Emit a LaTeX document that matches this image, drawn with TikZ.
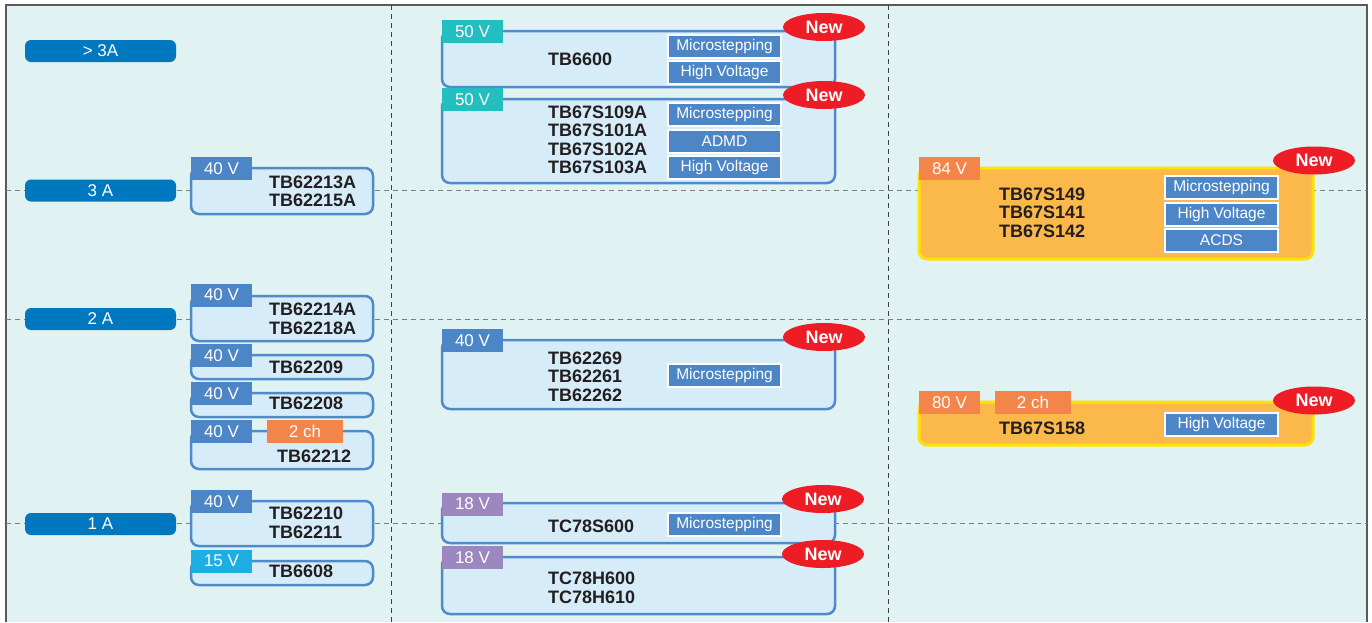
\documentclass[tikz,border=0pt]{standalone}
\usepackage{fontspec}
\setmainfont{Liberation Sans}
\usetikzlibrary{shapes.geometric}
\definecolor{bg}{HTML}{E0F2F2}
\definecolor{frame}{HTML}{5A5A5A}
\definecolor{pillblue}{HTML}{0078C0}
\definecolor{chipline}{HTML}{4F8AC9}
\definecolor{chipfill}{HTML}{D6EDF9}
\definecolor{tagblue}{HTML}{4C86C6}
\definecolor{tagteal}{HTML}{22BEC0}
\definecolor{tagcyan}{HTML}{1DAEE3}
\definecolor{tagpurple}{HTML}{9C87BF}
\definecolor{tagorange}{HTML}{F3844A}
\definecolor{orangefill}{HTML}{FBB84B}
\definecolor{orangeline}{HTML}{FFE200}
\definecolor{newred}{HTML}{EE1C25}
\definecolor{partblack}{HTML}{231F20}

\begin{document}
\begin{tikzpicture}[x=1pt, y=-1pt,
  amppill/.style={fill=pillblue, text=white, rounded corners=6pt, minimum width=151pt, minimum height=22pt, inner sep=0pt, font=\fontsize{17}{20}\selectfont},
  chipbox/.style={draw=chipline, fill=chipfill, line width=2.5pt, rounded corners=8pt, inner sep=0pt},
  hotbox/.style={draw=orangeline, fill=orangefill, line width=3pt, rounded corners=8pt, inner sep=0pt},
  volttag/.style={fill=#1, text=white, minimum width=61pt, minimum height=23pt, inner sep=0pt, font=\fontsize{17}{20}\selectfont},
  chtag/.style={volttag=tagorange, minimum width=76pt},
  featbox/.style={fill=tagblue, draw=white, line width=2pt, text=white, minimum width=113pt, minimum height=23pt, inner sep=0pt, font=\fontsize{15.5}{18}\selectfont},
  newmark/.style={ellipse, fill=newred, text=white, minimum width=82pt, minimum height=28pt, inner sep=0pt, font=\fontsize{18}{20}\selectfont\bfseries},
  partname/.style={anchor=west, align=left, inner sep=0pt, text=partblack, font=\fontsize{18}{18.5}\selectfont\bfseries},
  grid/.style={dash pattern=on 5pt off 4pt, line width=1pt}]
\useasboundingbox (0,0) rectangle (1372,622);
\fill[bg] (6,5) rectangle (1367,622);
\draw[frame, line width=1.5pt] (6,622) -- (6,5) -- (1367,5) -- (1367,622);

\draw[grid, gray] (6,190.5) -- (1367,190.5) (6,319) -- (1367,319) (6,523) -- (1367,523);
\draw[grid, black!75] (391.5,5) -- (391.5,622) (888,5) -- (888,622);

\node[amppill] (a4) at (100.5,51) {> 3A};
\node[amppill] (a3) at (100.5,190.5) {3 A};
\node[amppill] (a2) at (100.5,319) {2 A};
\node[amppill] (a1) at (100.5,524) {1 A};

\node[chipbox, minimum width=182pt, minimum height=46pt] (b1) at (282,191) {};
\node[volttag=tagblue] (b1v) at (221.5,168.5) {40 V};
\node[partname] (b1p) at (269,191.5) {TB62213A\\TB62215A};

\node[chipbox, minimum width=182pt, minimum height=45pt] (b2) at (282,318.5) {};
\node[volttag=tagblue] (b2v) at (221.5,295) {40 V};
\node[partname] (b2p) at (269,319) {TB62214A\\TB62218A};

\node[chipbox, minimum width=182pt, minimum height=24pt] (b3) at (282,367) {};
\node[volttag=tagblue] (b3v) at (221.5,355.5) {40 V};
\node[partname] (b3p) at (269,367.5) {TB62209};

\node[chipbox, minimum width=182pt, minimum height=24pt] (b4) at (282,405) {};
\node[volttag=tagblue] (b4v) at (221.5,393.5) {40 V};
\node[partname] (b4p) at (269,403.5) {TB62208};

\node[chipbox, minimum width=182pt, minimum height=38pt] (b5) at (282,450) {};
\node[volttag=tagblue] (b5v) at (221.5,431.5) {40 V};
\node[chtag] (b5c) at (305,431.5) {2 ch};
\node[partname] (b5p) at (277,456.5) {TB62212};

\node[chipbox, minimum width=182pt, minimum height=45pt] (b6) at (282,523.5) {};
\node[volttag=tagblue] (b6v) at (221.5,501.5) {40 V};
\node[partname] (b6p) at (269,523) {TB62210\\TB62211};

\node[chipbox, minimum width=182pt, minimum height=24pt] (b7) at (282,573) {};
\node[volttag=tagcyan] (b7v) at (221.5,561) {15 V};
\node[partname] (b7p) at (269,571.5) {TB6608};

\node[chipbox, minimum width=393pt, minimum height=56pt] (c1) at (638.5,59) {};
\node[volttag=tagteal] (c1v) at (472.5,31.5) {50 V};
\node[partname] (c1p) at (548,59.5) {TB6600};
\node[featbox] (c1m) at (724.5,46.5) {Microstepping};
\node[featbox] (c1h) at (724.5,72) {High Voltage};
\node[newmark] (c1n) at (824,27) {New};

\node[chipbox, minimum width=393pt, minimum height=84pt] (c2) at (638.5,141) {};
\node[volttag=tagteal] (c2v) at (472.5,99.5) {50 V};
\node[partname] (c2p) at (548,140) {TB67S109A\\TB67S101A\\TB67S102A\\TB67S103A};
\node[featbox] (c2m) at (724.5,114.5) {Microstepping};
\node[featbox] (c2a) at (724.5,141) {ADMD};
\node[featbox] (c2h) at (724.5,167) {High Voltage};
\node[newmark] (c2n) at (824,95) {New};

\node[chipbox, minimum width=393pt, minimum height=69pt] (c3) at (638.5,374.5) {};
\node[volttag=tagblue] (c3v) at (472.5,340.5) {40 V};
\node[partname] (c3p) at (548,376.5) {TB62269\\TB62261\\TB62262};
\node[featbox] (c3m) at (724.5,375) {Microstepping};
\node[newmark] (c3n) at (824,337) {New};

\node[chipbox, minimum width=393pt, minimum height=40pt] (c4) at (638.5,523) {};
\node[volttag=tagpurple] (c4v) at (472.5,504) {18 V};
\node[partname] (c4p) at (548,526.5) {TC78S600};
\node[featbox] (c4m) at (724.5,524) {Microstepping};
\node[newmark] (c4n) at (823,499) {New};

\node[chipbox, minimum width=393pt, minimum height=57pt] (c5) at (638.5,585.5) {};
\node[volttag=tagpurple] (c5v) at (472.5,557.5) {18 V};
\node[partname] (c5p) at (548,588) {TC78H600\\TC78H610};
\node[newmark] (c5n) at (823,554) {New};

\node[hotbox, minimum width=394pt, minimum height=91pt] (d1) at (1116,213.5) {};
\node[volttag=tagorange] (d1v) at (949.5,168.5) {84 V};
\node[partname] (d1p) at (999,212.5) {TB67S149\\TB67S141\\TB67S142};
\node[featbox] (d1m) at (1221.5,187.5) {Microstepping};
\node[featbox] (d1h) at (1221.5,214) {High Voltage};
\node[featbox] (d1a) at (1221.5,240) {ACDS};
\node[newmark] (d1n) at (1314,160.5) {New};

\node[hotbox, minimum width=394pt, minimum height=43pt] (d2) at (1116,423.5) {};
\node[volttag=tagorange] (d2v) at (949.5,402.5) {80 V};
\node[chtag] (d2c) at (1033,402.5) {2 ch};
\node[partname] (d2p) at (999,428.5) {TB67S158};
\node[featbox] (d2h) at (1221.5,424) {High Voltage};
\node[newmark] (d2n) at (1314,400.5) {New};
\end{tikzpicture}
\end{document}
